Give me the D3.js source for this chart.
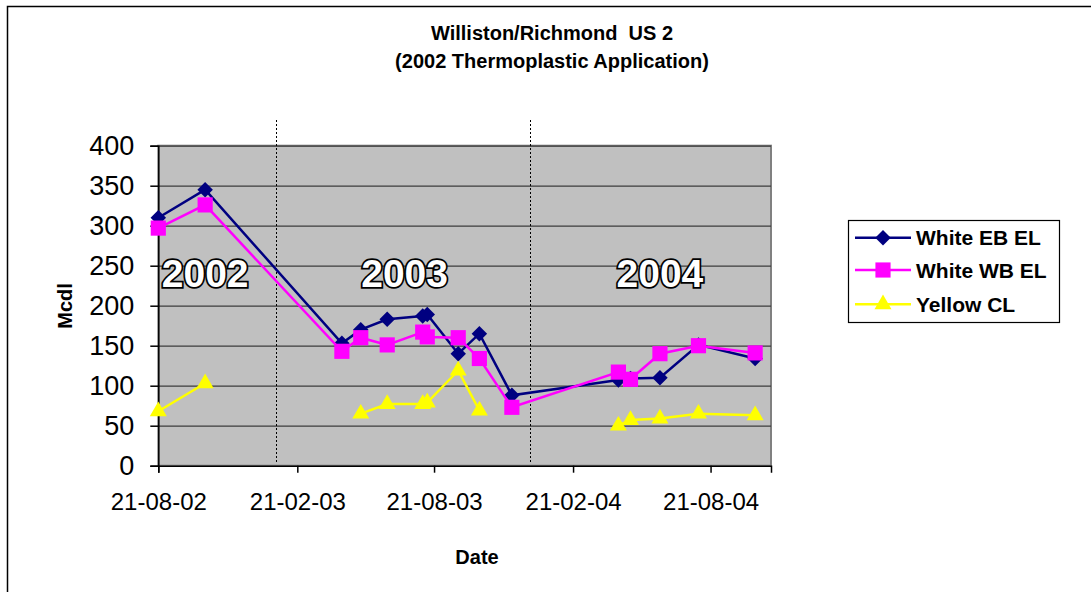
<!DOCTYPE html>
<html>
<head>
<meta charset="utf-8">
<script src="https://cdn.jsdelivr.net/npm/d3@7"></script>
<style>
  body { margin: 0; background: #fff; }
  text { font-family: "Liberation Sans", Arial, sans-serif; }
</style>
</head>
<body>
<svg id="chart"></svg>
<script>
// Williston/Richmond US 2 retroreflectivity chart

// Reading dates (dd-mm-yy on the axis).
let dates = ["2002-08-21", "2002-10-22", "2003-04-21", "2003-05-16", "2003-06-20",
  "2003-08-06", "2003-08-12", "2003-09-22", "2003-10-20", "2003-12-02",
  "2004-04-21", "2004-05-07", "2004-06-15", "2004-08-05", "2004-10-19"];
let whiteEB = [310, 345, 153, 170, 183, 187, 189, 140, 165, 88, 107, 109, 110, 151, 134];
let whiteWB = [297, 326, 143, 160, 151, 167, 161, 160, 134, 73, 117, 108, 140, 150, 141];
let yellowCL = [68, 103, null, 65, 77, 77, 79, 119, 69, null, 50, 57, 59, 65, 63];

let seriesNames = ["White EB EL", "White WB EL", "Yellow CL"];
let xTickDates = ["2002-08-21", "2003-02-21", "2003-08-21", "2004-02-21", "2004-08-21"];
let yTicks = [0, 50, 100, 150, 200, 250, 300, 350, 400];
let xDomain = ["2002-08-21", "2004-11-09"];

// Season separators and year labels drawn on the plot.
let separatorDates = ["2003-01-24", "2003-12-26"];
let yearLabels = ["2002", "2003", "2004"];
let yearLabelDates = ["2002-10-22", "2003-07-13", "2004-06-15"];
let yearLabelValue = 224;

let parseDate = d3.timeParse("%Y-%m-%d");

function drawChart(){
  let width = 1091;
  let height = 592;
  let svg = d3.select('#chart')
    .attr("width", width)
    .attr("height", height);

  // Chart area border.
  svg.append('rect')
    .attr("x", 7.5).attr("y", 6.5)
    .attr("width", 1100).attr("height", 600)
    .attr("fill", "#fff")
    .attr("stroke", "#000")
    .attr("stroke-width", 1.5);

  let plot = {left: 158.3, right: 771, top: 145.7, bottom: 465.7};

  let xScale = d3.scaleTime()
    .domain(xDomain.map(parseDate))
    .range([plot.left, plot.right]);
  let yScale = d3.scaleLinear()
    .domain([0, 400])
    .range([plot.bottom, plot.top]);

  // Plot area.
  svg.append('rect')
    .attr("x", plot.left).attr("y", plot.top)
    .attr("width", plot.right - plot.left)
    .attr("height", plot.bottom - plot.top)
    .attr("fill", "#c0c0c0")
    .attr("stroke", "#808080")
    .attr("stroke-width", 2);

  // Horizontal grid lines.
  let yGrid = d3.axisLeft(yScale)
    .tickValues(yTicks.slice(1))
    .tickFormat("")
    .tickSize(-(plot.right - plot.left));
  svg.append('g')
    .attr("transform", `translate(${plot.left},0)`)
    .call(yGrid)
    .call(g => g.select(".domain").remove())
    .call(g => g.selectAll("line").attr("stroke", "#3c3c3c").attr("stroke-width", 1.2));

  // Dotted separators between years.
  svg.append('g')
    .selectAll('line')
    .data(separatorDates)
    .join('line')
    .attr("x1", d => Math.round(xScale(parseDate(d))) + 0.5)
    .attr("x2", d => Math.round(xScale(parseDate(d))) + 0.5)
    .attr("y1", 120)
    .attr("y2", plot.bottom - 2)
    .attr("stroke", "#000")
    .attr("stroke-width", 1)
    .attr("stroke-dasharray", "2,2");

  // Y axis.
  let yAxis = d3.axisLeft(yScale)
    .tickValues(yTicks)
    .tickSize(8)
    .tickPadding(16);
  svg.append('g')
    .attr("transform", `translate(${plot.left},0)`)
    .call(yAxis)
    .call(g => g.select(".domain").attr("stroke", "#000").attr("stroke-width", 1.5))
    .call(g => g.selectAll("line").attr("stroke", "#000").attr("stroke-width", 1.5))
    .call(g => g.selectAll("text")
      .attr("font-size", 27)
      .attr("fill", "#000")
      .style("font-family", "Liberation Sans, Arial, sans-serif"));

  // X axis.
  let xAxis = d3.axisBottom(xScale)
    .tickValues(xTickDates.map(parseDate))
    .tickFormat(d3.timeFormat("%d-%m-%y"))
    .tickSize(7)
    .tickPadding(20);
  svg.append('g')
    .attr("transform", `translate(0,${plot.bottom})`)
    .call(xAxis)
    .call(g => g.select(".domain").attr("stroke", "#000").attr("stroke-width", 1.5))
    .call(g => g.selectAll("line").attr("stroke", "#000").attr("stroke-width", 1.5))
    .call(g => g.selectAll("text")
      .attr("font-size", 24)
      .attr("fill", "#000")
      .style("font-family", "Liberation Sans, Arial, sans-serif"));

  // Year labels, white with black outline.
  svg.append('g')
    .selectAll('text')
    .data(yearLabels)
    .join('text')
    .attr("x", (d, i) => xScale(parseDate(yearLabelDates[i])))
    .attr("y", yScale(yearLabelValue))
    .attr("text-anchor", "middle")
    .attr("font-size", 39)
    .attr("font-weight", "bold")
    .attr("fill", "#fff")
    .attr("stroke", "#000")
    .attr("stroke-width", 3.5)
    .attr("paint-order", "stroke")
    .text(d => d);

  // Series. The diamond is a square turned 45 degrees, as in the original.
  let series = [
    {name: seriesNames[0], values: whiteEB, color: "#000080", marker: d3.symbolSquare, size: 120, turn: 45},
    {name: seriesNames[1], values: whiteWB, color: "#ff00ff", marker: d3.symbolSquare, size: 230, turn: 0},
    {name: seriesNames[2], values: yellowCL, color: "#ffff00", marker: d3.symbolTriangle, size: 125, turn: 0}
  ];
  let points = s => dates.map((d, i) => ({date: parseDate(d), value: s.values[i]}));
  let line = d3.line()
    .defined(d => d.value != null)
    .x(d => xScale(d.date))
    .y(d => yScale(d.value));

  series.forEach(s => {
    let g = svg.append('g');
    g.append('path')
      .datum(points(s))
      .attr("d", line)
      .attr("fill", "none")
      .attr("stroke", s.color)
      .attr("stroke-width", 2.5);
    g.selectAll('path.marker')
      .data(points(s).filter(d => d.value != null))
      .join('path')
      .attr("class", "marker")
      .attr("d", d3.symbol().type(s.marker).size(s.size))
      .attr("transform", d => `translate(${xScale(d.date)},${yScale(d.value)}) rotate(${s.turn})`)
      .attr("fill", s.color);
  });

  // Titles.
  let title = svg.append('text')
    .attr("x", 552)
    .attr("text-anchor", "middle")
    .attr("font-size", 20)
    .attr("font-weight", "bold");
  title.append('tspan').attr("x", 552).attr("y", 40).text("Williston/Richmond\u00a0 US 2");
  title.append('tspan').attr("x", 552).attr("y", 67.7).text("(2002 Thermoplastic Application)");

  svg.append('text')
    .attr("transform", "translate(72,306) rotate(-90)")
    .attr("text-anchor", "middle")
    .attr("font-size", 20)
    .attr("font-weight", "bold")
    .text("Mcdl");

  svg.append('text')
    .attr("x", 477)
    .attr("y", 564)
    .attr("text-anchor", "middle")
    .attr("font-size", 20)
    .attr("font-weight", "bold")
    .text("Date");

  // Legend.
  let legend = svg.append('g');
  legend.append('rect')
    .attr("x", 848.5).attr("y", 220.5)
    .attr("width", 211).attr("height", 102)
    .attr("fill", "#fff")
    .attr("stroke", "#000")
    .attr("stroke-width", 1.2);
  let rowY = [237.7, 270, 304.3];
  series.forEach((s, i) => {
    let row = legend.append('g').attr("transform", `translate(0,${rowY[i]})`);
    row.append('line')
      .attr("x1", 855).attr("x2", 911)
      .attr("stroke", s.color)
      .attr("stroke-width", 2.5);
    row.append('path')
      .attr("d", d3.symbol().type(s.marker).size(s.size))
      .attr("transform", `translate(883,0) rotate(${s.turn})`)
      .attr("fill", s.color);
    row.append('text')
      .attr("x", 916)
      .attr("y", 7.5)
      .attr("font-size", 21)
      .attr("font-weight", "bold")
      .text(s.name);
  });
}

drawChart();
</script>
</body>
</html>
